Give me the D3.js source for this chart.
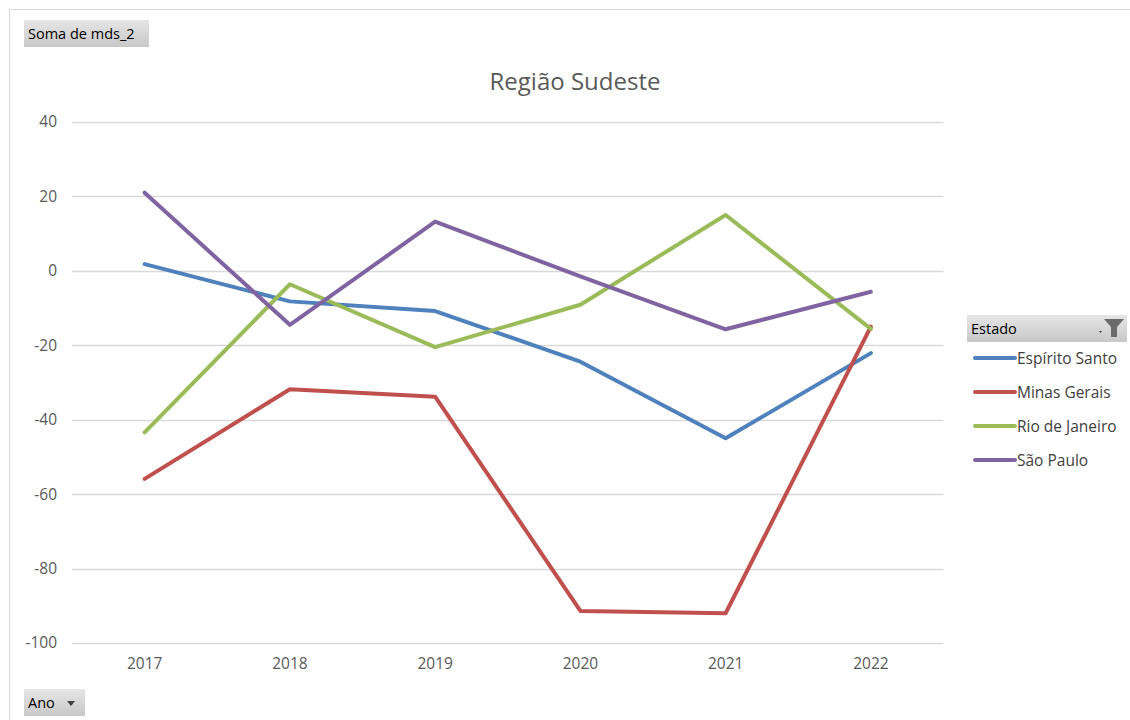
<!DOCTYPE html>
<html>
<head>
<meta charset="utf-8">
<script src="https://cdn.jsdelivr.net/npm/d3@7"></script>
<style>
  html, body { margin: 0; padding: 0; background: #fff; }
  svg { display: block; font-family: "Open Sans", "Noto Sans", sans-serif; }
</style>
</head>
<body>
<svg id="chart" width="1130" height="720"></svg>
<script>
// Years on the category axis
const years = ["2017", "2018", "2019", "2020", "2021", "2022"];
// Series names (Estado)
const states = ["Espírito Santo", "Minas Gerais", "Rio de Janeiro", "São Paulo"];
// Soma de mds_2 per state and year
const espiritoSanto = [1.8, -8.2, -10.8, -24.4, -45.0, -22.1];
const minasGerais   = [-55.9, -31.8, -33.8, -91.4, -92.0, -15.0];
const rioDeJaneiro  = [-43.4, -3.6, -20.5, -9.1, 15.0, -15.6];
const saoPaulo      = [21.0, -14.5, 13.2, -1.5, -15.7, -5.6];
// Value-axis ticks
const yTicks = [40, 20, 0, -20, -40, -60, -80, -100];
const colors = ["#4f81bd", "#c0504d", "#9bbb59", "#8064a2"];

const seriesValues = [espiritoSanto, minasGerais, rioDeJaneiro, saoPaulo];
const series = states.map((name, i) => ({
  name,
  color: colors[i],
  values: years.map((y, j) => ({ year: y, value: seriesValues[i][j] }))
}));

const svg = d3.select("#chart");
const labelFont = "Open Sans, Noto Sans, sans-serif";

// Outer chart frame (top and left edges visible)
svg.append("line").attr("x1", 9.5).attr("x2", 1130).attr("y1", 9.5).attr("y2", 9.5)
  .attr("stroke", "#d9d9d9").attr("stroke-width", 1);
svg.append("line").attr("x1", 9.5).attr("x2", 9.5).attr("y1", 9.5).attr("y2", 720)
  .attr("stroke", "#d9d9d9").attr("stroke-width", 1);

const plot = { left: 72, right: 943.5, top: 122, bottom: 643 };

const x = d3.scaleBand().domain(years).range([plot.left, plot.right]);
const y = d3.scaleLinear().domain([-100, 40]).range([plot.bottom, plot.top]);

// Gridlines
svg.append("g")
  .selectAll("line")
  .data(yTicks)
  .join("line")
  .attr("x1", plot.left).attr("x2", plot.right)
  .attr("y1", d => Math.round(y(d)) + 0.5).attr("y2", d => Math.round(y(d)) + 0.5)
  .attr("stroke", "#d9d9d9").attr("stroke-width", 1.3);

// Y axis labels (plain hyphen for negatives)
const yAxis = d3.axisLeft(y).tickValues(yTicks).tickSize(0).tickPadding(0)
  .tickFormat(d => String(d));
const yg = svg.append("g").attr("transform", `translate(${plot.left - 15},0)`).call(yAxis)
  .attr("font-family", labelFont);
yg.select(".domain").remove();
yg.selectAll("text").attr("fill", "#595959").attr("font-size", 15.5);

// X axis labels
const xAxis = d3.axisBottom(x).tickSize(0).tickPadding(0);
const xg = svg.append("g").attr("transform", `translate(0,${plot.bottom + 15})`).call(xAxis)
  .attr("font-family", labelFont);
xg.select(".domain").remove();
xg.selectAll("text").attr("fill", "#595959").attr("font-size", 15.5);

// Lines
const line = d3.line()
  .x(d => x(d.year) + x.bandwidth() / 2)
  .y(d => y(d.value));

svg.append("g")
  .selectAll("path")
  .data(series)
  .join("path")
  .attr("d", d => line(d.values))
  .attr("fill", "none")
  .attr("stroke", d => d.color)
  .attr("stroke-width", 4)
  .attr("stroke-linejoin", "round")
  .attr("stroke-linecap", "round");

// Title
svg.append("text")
  .attr("x", 575).attr("y", 90)
  .attr("text-anchor", "middle")
  .attr("fill", "#595959").attr("font-size", 24)
  .text("Região Sudeste");

// Gray field buttons
const grad = svg.append("defs").append("linearGradient")
  .attr("id", "btn").attr("x1", 0).attr("y1", 0).attr("x2", 0).attr("y2", 1);
grad.append("stop").attr("offset", "0%").attr("stop-color", "#e6e6e6");
grad.append("stop").attr("offset", "100%").attr("stop-color", "#c8c8c8");

function button(x0, y0, w, h, label) {
  const g = svg.append("g");
  g.append("rect").attr("x", x0).attr("y", y0).attr("width", w).attr("height", h)
    .attr("fill", "url(#btn)");
  g.append("text").attr("x", x0 + 4).attr("y", y0 + h / 2 + 5)
    .attr("fill", "#000").attr("font-size", 14.5).attr("font-family", labelFont)
    .text(label);
  return g;
}

button(24, 20, 125, 27, "Soma de mds_2");

const ano = button(24, 689, 61, 27, "Ano");
ano.append("path").attr("d", "M67,701 L75,701 L71,706 Z").attr("fill", "#404040");

// Legend
const leg = button(967, 315, 160, 27, "Estado");
leg.append("path").attr("d", "M1099,331 L1102,331 L1100.5,333 Z").attr("fill", "#404040");
leg.append("path").attr("d", "M1104,319 L1124,319 L1117,327 L1117,337 L1111,337 L1111,327 Z")
  .attr("fill", "#6b6b6b");

const legItems = svg.append("g")
  .selectAll("g")
  .data(series)
  .join("g")
  .attr("transform", (d, i) => `translate(975,${358 + i * 34})`);
legItems.append("line")
  .attr("x1", 0).attr("x2", 40).attr("y1", 0).attr("y2", 0)
  .attr("stroke", d => d.color).attr("stroke-width", 4).attr("stroke-linecap", "round");
legItems.append("text")
  .attr("x", 42).attr("y", 5.5)
  .attr("fill", "#404040").attr("font-size", 15.5)
  .text(d => d.name);
</script>
</body>
</html>
